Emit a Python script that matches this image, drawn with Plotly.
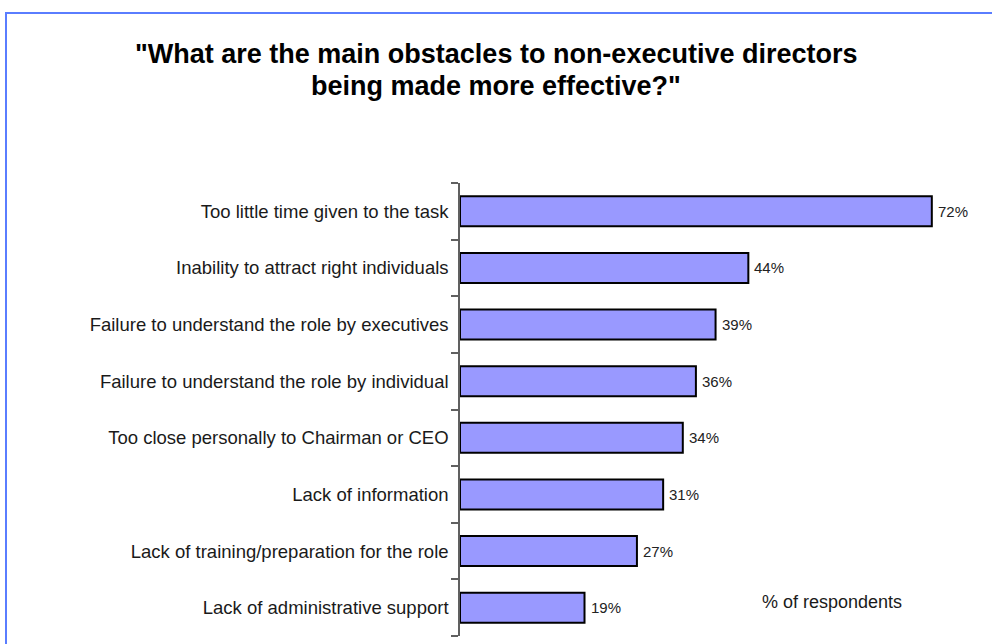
import plotly.graph_objects as go

# Survey responses, listed top to bottom
categories = [
    "Too little time given to the task",
    "Inability to attract right individuals",
    "Failure to understand the role by executives",
    "Failure to understand the role by individual",
    "Too close personally to Chairman or CEO",
    "Lack of information",
    "Lack of training/preparation for the role",
    "Lack of administrative support",
]
values = [72, 44, 39, 36, 34, 31, 27, 19]
value_labels = [f"{v}%" for v in values]

title_lines = ['"What are the main obstacles to non-executive directors',
               'being made more effective?"']
unit_note = "% of respondents"

FONT = "Liberation Sans, Arial, sans-serif"

fig = go.Figure(
    go.Bar(
        x=values,
        y=categories,
        orientation="h",
        marker=dict(color="#9999FF", line=dict(color="#000000", width=2)),
        width=0.53,
        hoverinfo="skip",
    )
)

# value labels just right of each bar end
label_annotations = [
    dict(
        x=v, y=c, xref="x", yref="y",
        text=t, showarrow=False,
        xanchor="left", yanchor="middle", xshift=4,
        font=dict(family=FONT, size=15, color="#222222"),
    )
    for v, c, t in zip(values, categories, value_labels)
]

title_annotations = [
    dict(
        text=line,
        xref="paper", yref="paper",
        x=0.072, y=y,
        xanchor="center", yanchor="middle",
        showarrow=False,
        font=dict(family=FONT, size=27, color="#000000", weight="bold"),
    )
    for line, y in zip(title_lines, [1.2837, 1.2131])
]

fig.update_layout(
    width=992,
    height=644,
    margin=dict(l=460, r=32, t=183, b=8),
    paper_bgcolor="white",
    plot_bgcolor="white",
    showlegend=False,
    font=dict(family=FONT, color="#1a1a1a"),
    xaxis=dict(visible=False, range=[0, 76.3], fixedrange=True),
    yaxis=dict(
        categoryorder="array",
        categoryarray=categories[::-1],
        tickson="boundaries",
        ticks="outside",
        ticklen=7,
        tickwidth=1.5,
        tickcolor="#606060",
        showline=True,
        linecolor="#606060",
        linewidth=1.5,
        showgrid=False,
        tickfont=dict(family=FONT, size=18.5, color="#1a1a1a"),
        ticklabelstandoff=6,
        fixedrange=True,
    ),
    annotations=label_annotations + title_annotations + [
        dict(
            text=unit_note,
            xref="paper", yref="paper",
            x=0.744, y=0.075,
            xanchor="center", yanchor="middle",
            showarrow=False,
            font=dict(family=FONT, size=18, color="#1a1a1a"),
        ),
    ],
    shapes=[
        dict(
            type="rect",
            xref="paper", yref="paper",
            x0=-0.908, x1=1.08, y0=-0.031, y1=1.3753,
            line=dict(color="#5a7dff", width=2),
            fillcolor="rgba(0,0,0,0)",
            layer="below",
        )
    ],
)

fig.write_html("out.html")
